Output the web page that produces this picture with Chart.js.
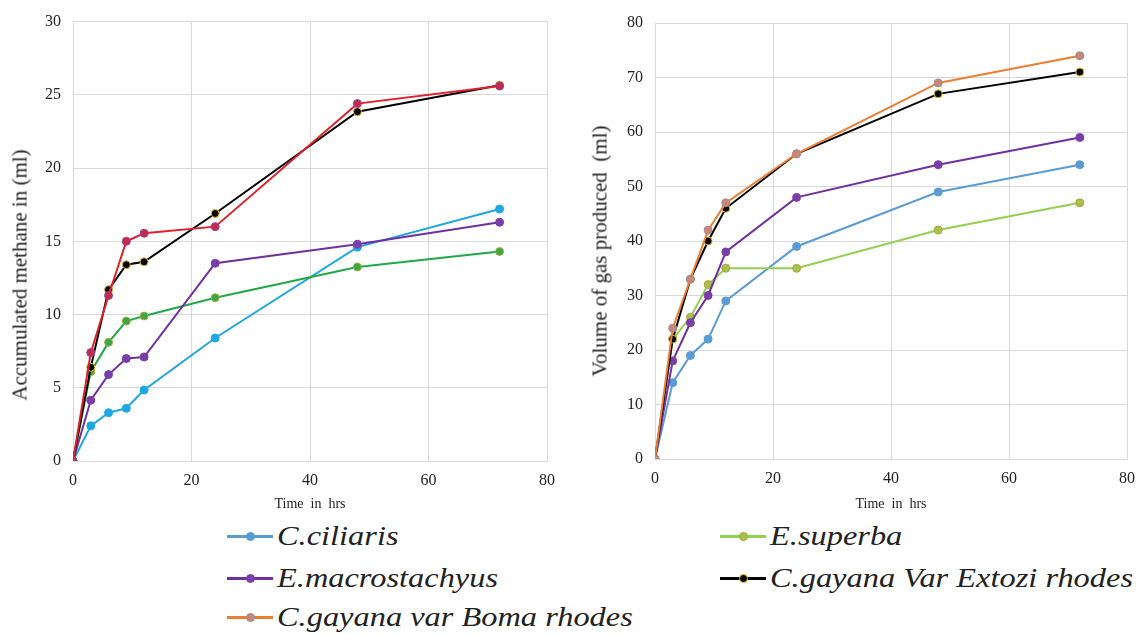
<!DOCTYPE html>
<html lang="en">
<head>
<meta charset="UTF-8">
<title>Accumulated methane and gas volume</title>
<script src="https://cdn.jsdelivr.net/npm/chart.js"></script>
<style>
  body { margin: 0; background: #fff; width: 1145px; height: 634px; position: relative; overflow: hidden;
         font-family: "Liberation Serif", "Times New Roman", serif; color: #222; }
  .box { position: absolute; top: 0; width: 565px; height: 520px; }
  .ytitle { position: absolute; white-space: pre; font-size: 21px; transform: translate(-50%, -50%) rotate(-90deg); }
  .legend-item { position: absolute; height: 30px; display: flex; align-items: center; }
  .swatch { position: relative; width: 46px; height: 3px; flex: none; }
  .swatch span { position: absolute; left: 19px; top: -3px; width: 9px; height: 9px; border-radius: 50%;
                 box-sizing: border-box; border: 1px solid; }
  .label { font-style: italic; font-size: 27px; margin-left: 4px; transform: scaleX(1.2);
           transform-origin: left center; white-space: nowrap; }
</style>
</head>
<body>
  <div class="box" style="left:0"><canvas id="methaneChart"></canvas></div>
  <div class="box" style="left:580px"><canvas id="gasChart"></canvas></div>
  <div class="ytitle" style="left:20px; top:275px">Accumulated methane in (ml)</div>
  <div class="ytitle" style="left:600px; top:251px">Volume of gas produced  (ml)</div>
  <div id="legend"></div>

<script>
// time points (hrs)
const hours = [0, 3, 6, 9, 12, 24, 48, 72];
const species = ["C.ciliaris", "E.superba", "E.macrostachyus", "C.gayana Var Extozi rhodes", "C.gayana var Boma rhodes"];

// left chart: accumulated methane (ml)
const methaneCiliaris = [0, 2.4, 3.3, 3.6, 4.85, 8.4, 14.6, 17.2];
const methaneSuperba  = [0, 6.1, 8.1, 9.55, 9.9, 11.15, 13.25, 14.3];
const methaneMacro    = [0, 4.15, 5.9, 7.0, 7.1, 13.5, 14.8, 16.3];
const methaneExtozi   = [0, 6.4, 11.7, 13.4, 13.6, 16.9, 23.85, 25.65];
const methaneBoma     = [0, 7.4, 11.3, 15.0, 15.55, 16.0, 24.4, 25.6];

// right chart: volume of gas produced (ml)
const gasCiliaris = [0, 14, 19, 22, 29, 39, 49, 54];
const gasSuperba  = [0, 22, 26, 32, 35, 35, 42, 47];
const gasMacro    = [0, 18, 25, 30, 38, 48, 54, 59];
const gasExtozi   = [0, 22, 33, 40, 46, 56, 67, 71];
const gasBoma     = [0, 24, 33, 42, 47, 56, 69, 74];

const xTicks = [0, 20, 40, 60, 80];
const methaneTicks = [0, 5, 10, 15, 20, 25, 30];
const gasTicks = [0, 10, 20, 30, 40, 50, 60, 70, 80];

// colours: [line, marker fill, marker border]
const methaneColors = [
  ["#1ea7e1", "#1ea7e1", "#1ea7e1"],
  ["#20a84a", "#3aa848", "#b0a83a"],
  ["#7030a0", "#7a3ea8", "#7a3ea8"],
  ["#000000", "#000000", "#e8c020"],
  ["#e0202a", "#c8284a", "#8a4a9a"]
];
const gasColors = [
  ["#5b9bd5", "#5b9bd5", "#5b9bd5"],
  ["#92d050", "#a5c24a", "#b0a040"],
  ["#7030a0", "#7a3ea8", "#7a3ea8"],
  ["#000000", "#000000", "#e8c020"],
  ["#ed7d31", "#c88878", "#a08890"]
];

const tickFont = { family: "Liberation Serif", size: 16 };

function points(values) {
  return hours.map((h, i) => ({ x: h, y: values[i] }));
}

function makeChart(id, seriesList, colors, yTicks, yWidth, xHeight, pad) {
  const datasets = seriesList.map((vals, i) => ({
    label: species[i],
    data: points(vals),
    borderColor: colors[i][0],
    backgroundColor: colors[i][1],
    pointBackgroundColor: colors[i][1],
    pointBorderColor: colors[i][2],
    pointBorderWidth: 1,
    pointRadius: 4,
    borderWidth: 2,
    tension: 0,
    order: seriesList.length - i
  }));
  return new Chart(document.getElementById(id), {
    type: "line",
    data: { datasets: datasets },
    options: {
      responsive: true,
      maintainAspectRatio: false,
      animation: false,
      layout: { padding: pad },
      plugins: { legend: { display: false }, tooltip: { enabled: false } },
      scales: {
        x: {
          type: "linear",
          min: xTicks[0],
          max: xTicks[xTicks.length - 1],
          afterBuildTicks: s => { s.ticks = xTicks.map(v => ({ value: v })); },
          afterFit: s => { s.height = xHeight; },
          grid: { color: "#d9d9d9", drawTicks: false },
          border: { color: "#d9d9d9" },
          ticks: { font: tickFont, color: "#222", padding: 10 },
          title: { display: true, text: "Time  in  hrs", font: { family: "Liberation Serif", size: 14 },
                   color: "#222", padding: { top: 0, bottom: 7 } }
        },
        y: {
          min: yTicks[0],
          max: yTicks[yTicks.length - 1],
          afterBuildTicks: s => { s.ticks = yTicks.map(v => ({ value: v })); },
          afterFit: s => { s.width = yWidth; },
          grid: { color: "#d9d9d9", drawTicks: false },
          border: { color: "#d9d9d9" },
          ticks: { font: tickFont, color: "#222", padding: 12 }
        }
      }
    }
  });
}

makeChart("methaneChart",
  [methaneCiliaris, methaneSuperba, methaneMacro, methaneExtozi, methaneBoma],
  methaneColors, methaneTicks, 73, 59, { top: 20, right: 18, bottom: 0, left: 0 });

makeChart("gasChart",
  [gasCiliaris, gasSuperba, gasMacro, gasExtozi, gasBoma],
  gasColors, gasTicks, 75, 61, { top: 23, right: 8, bottom: 0, left: 0 });

// shared legend, two columns
const legendSlots = [[227, 536], [720, 536], [227, 578], [720, 578], [227, 617]];
const legend = document.getElementById("legend");
species.forEach((name, i) => {
  const item = document.createElement("div");
  item.className = "legend-item";
  item.style.left = legendSlots[i][0] + "px";
  item.style.top = (legendSlots[i][1] - 15) + "px";
  item.innerHTML =
    '<div class="swatch" style="background:' + gasColors[i][0] + '">' +
    '<span style="background:' + gasColors[i][1] + ';border-color:' + gasColors[i][2] + '"></span></div>' +
    '<div class="label">' + name + '</div>';
  legend.appendChild(item);
});
</script>
</body>
</html>
